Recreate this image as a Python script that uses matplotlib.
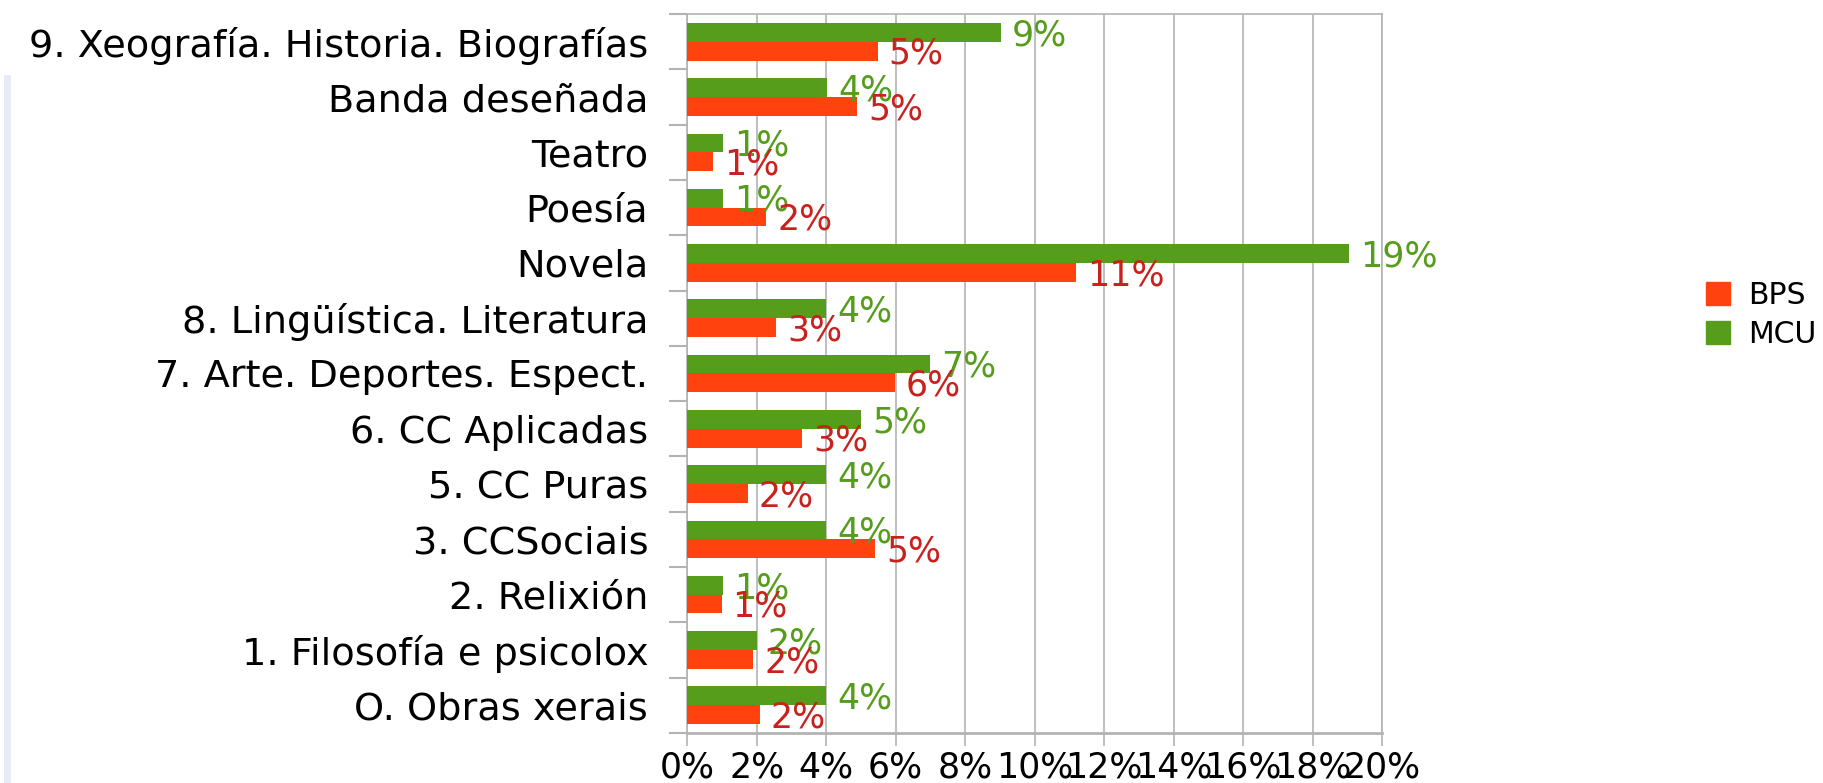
import matplotlib.pyplot as plt
from matplotlib.patches import Patch
from matplotlib.lines import Line2D

plt.rcParams['font.family'] = ['DejaVu Sans']

# categories, bottom to top
categories = ['O. Obras xerais', '1. Filosofía e psicolox', '2. Relixión',
              '3. CCSociais', '5. CC Puras', '6. CC Aplicadas',
              '7. Arte. Deportes. Espect.', '8. Lingüística. Literatura',
              'Novela', 'Poesía', 'Teatro', 'Banda deseñada',
              '9. Xeografía. Historia. Biografías']
bps = [2.09, 1.91, 0.99, 5.4, 1.74, 3.3, 5.98, 2.55, 11.18, 2.28, 0.75, 4.89, 5.48]
mcu = [4.0, 2.0, 1.02, 4.0, 4.0, 5.0, 7.0, 4.0, 19.04, 1.04, 1.04, 4.04, 9.02]
xticks = [0, 2, 4, 6, 8, 10, 12, 14, 16, 18, 20]

c_bps = '#FF420E'
c_mcu = '#579D1C'
c_bps_lbl = '#C9211E'
grey = '#b3b3b3'

fig = plt.figure(figsize=(18.24, 7.83), dpi=100)
ax = fig.add_axes([0.3767, 0.064, 0.381, 0.918])

# faint slide edge on the far left
fig.add_artist(Line2D([0.004, 0.004], [0.0, 0.9], color='#e6ebf4',
                      linewidth=5, transform=fig.transFigure))

y = list(range(len(categories)))
h = 0.34
ax.barh([i + h / 2 for i in y], mcu, height=h, color=c_mcu, zorder=3)
ax.barh([i - h / 2 for i in y], bps, height=h, color=c_bps, zorder=3)

for i in y:
    ax.annotate(f'{round(mcu[i])}%', (mcu[i], i + h / 2), xytext=(8, -2),
                textcoords='offset points', va='center', ha='left',
                color=c_mcu, fontsize=25, zorder=4)
    ax.annotate(f'{round(bps[i])}%', (bps[i], i - h / 2), xytext=(8, -2),
                textcoords='offset points', va='center', ha='left',
                color=c_bps_lbl, fontsize=25, zorder=4)

ax.set_xlim(0, 20)
ax.set_ylim(-0.5, len(categories) - 0.5)
ax.set_xticks(xticks)
ax.set_xticklabels([f'{t}%' for t in xticks], fontsize=25)
ax.set_yticks(y)
ax.set_yticklabels(categories, fontsize=27.5)
ax.set_yticks([i - 0.5 for i in range(len(categories) + 1)], minor=True)
ax.tick_params(axis='y', which='major', length=0, pad=28)
ax.tick_params(axis='y', which='minor', length=13, color=grey, width=1.5)
ax.tick_params(axis='x', length=9, color=grey, width=1.2, pad=4)

ax.grid(axis='x', color=grey, linewidth=1.2, zorder=0)
for s in ax.spines.values():
    s.set_color(grey)
    s.set_linewidth(1.2)
ax.spines['bottom'].set_linewidth(2)

handles = [Patch(color=c_bps, label='BPS'), Patch(color=c_mcu, label='MCU')]
fig.legend(handles=handles, loc='center left', bbox_to_anchor=(0.929, 0.598),
           frameon=False, fontsize=21.5, handlelength=0.8, handleheight=0.8,
           handletextpad=0.6, labelspacing=0.35, borderaxespad=0)

plt.savefig('out.png', dpi=100)
